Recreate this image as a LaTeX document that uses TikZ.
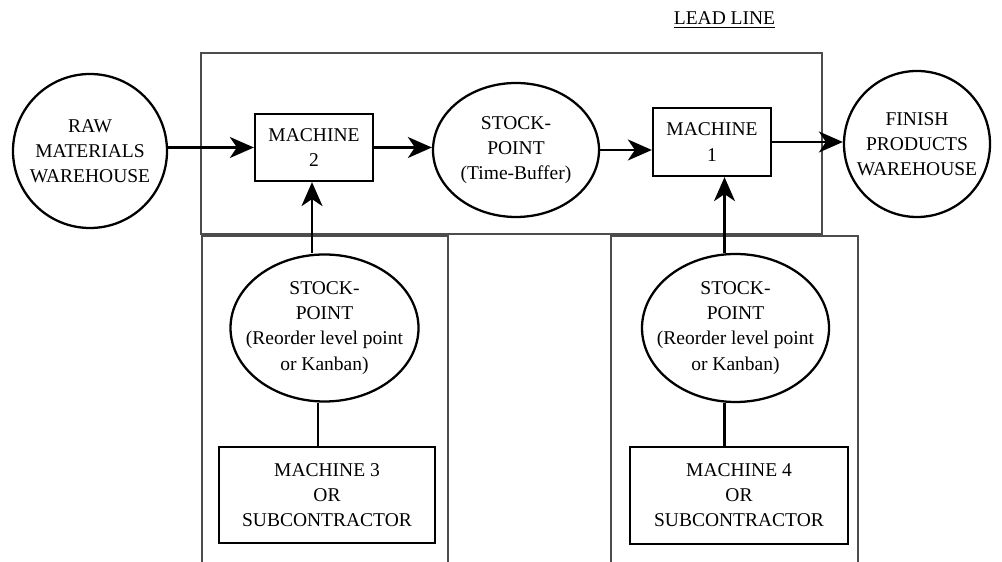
\documentclass[tikz,border=0pt]{standalone}
\usepackage{fontspec}
\setmainfont{Liberation Serif}
\newfontfamily\tmsfont{Liberation Serif}
\usetikzlibrary{arrows.meta, positioning, calc, shapes.geometric}

\begin{document}
\begin{tikzpicture}[
  every node/.style={font=\tmsfont\fontsize{11.1pt}{14.3pt}\selectfont, align=center},
  box/.style={draw, rectangle, line width=1.3pt, inner sep=2pt},
  oval/.style={draw, ellipse, line width=1.3pt, inner sep=0pt},
  circ/.style={draw, circle, line width=1.3pt, inner sep=0pt},
  frm/.style={draw=black!70, line width=1.1pt},
  arr/.style={-{Stealth[length=0.48cm,width=0.42cm,inset=0.14cm]}, line width=1.3pt},
  lnk/.style={line width=1.3pt},
]
\useasboundingbox (0,0) rectangle (20.04,11.24);

%% ---- Frames (lead line and the two feeders) ----
\draw[frm] (4.02, 6.56) rectangle (16.44, 10.18);
\draw[frm] (4.04, -0.2) -- (4.04, 6.52) -- (8.96, 6.52) -- (8.96, -0.2);
\draw[frm] (12.22, -0.2) -- (12.22, 6.52) -- (17.16, 6.52) -- (17.16, -0.2);

%% ---- Lead line (y=8.3) ----
\node[circ, minimum size=3.08cm] (raw) at ( 1.80, 8.22) {RAW\\MATERIALS\\WAREHOUSE};
\node[box, minimum width=2.36cm, minimum height=1.34cm] (m2) at ( 6.28, 8.29) {MACHINE\\2};
\node[oval, minimum width=3.32cm, minimum height=2.68cm] (tb) at (10.32, 8.24)
  {STOCK-\\POINT\\(Time-Buffer)};
\node[box, minimum width=2.36cm, minimum height=1.36cm] (m1) at (14.24, 8.40) {MACHINE\\1};
\node[circ, minimum size=2.92cm] (fin) at (18.34, 8.36) {FINISH\\PRODUCTS\\WAREHOUSE};

\node (lead) at (14.49, 10.84) {\underline{LEAD LINE}};

%% ---- Feeders ----
\node[oval, inner xsep=-0.35cm, minimum width=3.76cm, minimum height=2.94cm] (sp1) at ( 6.49, 4.68)
  {STOCK-\\POINT\\(Reorder level point\\or Kanban)};
\node[box, minimum width=4.32cm, minimum height=1.92cm] (m3) at ( 6.54, 1.34)
  {MACHINE 3\\OR\\SUBCONTRACTOR};
\node[oval, inner xsep=-0.35cm, minimum width=3.74cm, minimum height=2.96cm] (sp2) at (14.71, 4.68)
  {STOCK-\\POINT\\(Reorder level point\\or Kanban)};
\node[box, minimum width=4.36cm, minimum height=1.94cm] (m4) at (14.78, 1.33)
  {MACHINE 4\\OR\\SUBCONTRACTOR};

%% ---- Flow arrows ----
\draw[arr] (raw.east |- m2.west) -- (m2.west);
\draw[arr] (m2.east) -- (m2.east -| tb.west);
\draw[arr] (tb.east) -- (tb.east -| m1.west);
\draw[arr] (m1.east) -- (m1.east -| fin.west);

%% ---- Supply links ----
\draw[arr] ([xshift=-0.25cm]sp1.north) -- ([xshift=-0.25cm]sp1.north |- m2.south);
\draw[lnk] ([xshift=-0.13cm]sp1.south) -- ([xshift=-0.13cm]sp1.south |- m3.north);
\draw[arr] ([xshift=-0.22cm]sp2.north) -- ([xshift=-0.22cm]sp2.north |- m1.south);
\draw[lnk] ([xshift=-0.22cm]sp2.south) -- ([xshift=-0.22cm]sp2.south |- m4.north);
\end{tikzpicture}
\end{document}
